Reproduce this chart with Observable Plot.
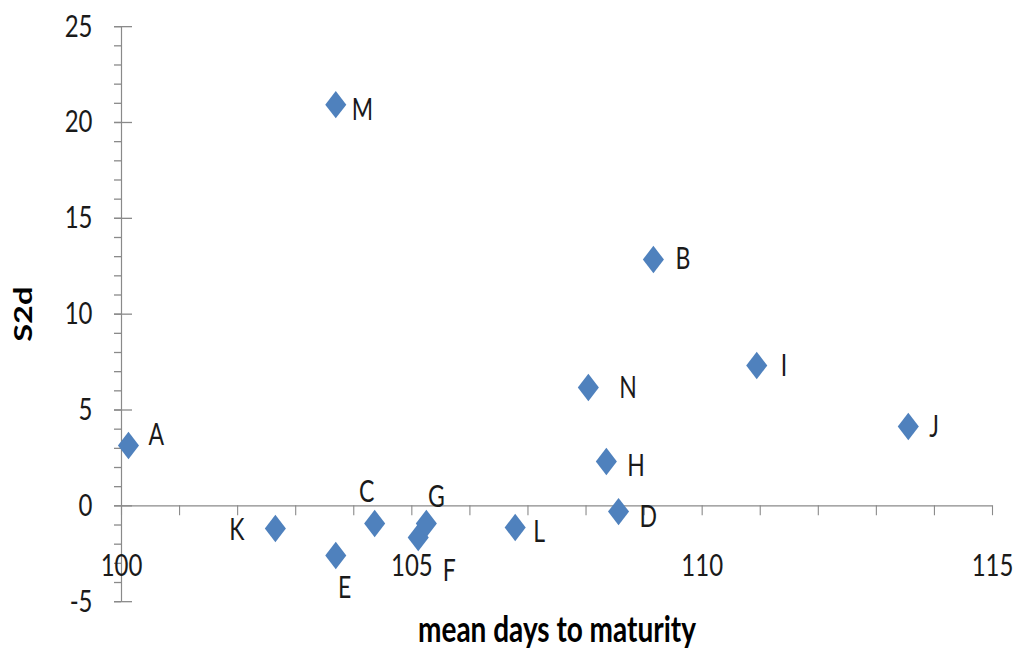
<!DOCTYPE html>
<html>
<head>
<meta charset="utf-8">
<script src="https://cdn.jsdelivr.net/npm/d3@7"></script>
<script src="https://cdn.jsdelivr.net/npm/@observablehq/plot@0.6"></script>
<style>
  html, body { margin: 0; padding: 0; background: #fff; }
  #chart svg { display: block; }
</style>
</head>
<body>
<div id="chart"></div>
<script>
// ---- data ----
const names    = ["A", "B", "C", "D", "E", "F", "G", "H", "I", "J", "K", "L", "M", "N"];
const meanDays = [100.12, 109.16, 104.36, 108.56, 103.69, 105.11, 105.25, 108.35, 110.94, 113.55, 102.65, 106.78, 103.69, 108.04];
const s2d      = [3.15, 12.85, -0.92, -0.30, -2.59, -1.65, -0.92, 2.31, 7.32, 4.14, -1.18, -1.13, 20.93, 6.17];

const xTickLabels = [100, 105, 110, 115];
const xTicks      = [100, 101, 102, 103, 104, 105, 106, 107, 108, 109, 110, 111, 112, 113, 114, 115];
const yTickLabels = [-5, 0, 5, 10, 15, 20, 25];
const yTicks      = [-5, -4, -3, -2, -1, 0, 1, 2, 3, 4, 5, 6, 7, 8, 9, 10, 11, 12, 13, 14, 15, 16, 17, 18, 19, 20, 21, 22, 23, 24, 25];

const xLabel = "mean days to maturity";
const yLabel = "S2d";

// ---- label placement (screen px offsets, anchor) ----
const labelPlacement = {
  A: ["start", 20, -10], B: ["start", 22, 0],  C: ["middle", -8, -31], D: ["start", 21, 6],
  E: ["middle", 9, 33],  F: ["middle", 31, 34], G: ["middle", 10, -26], H: ["start", 21, 5],
  I: ["start", 24, 1],   J: ["start", 21, 1],  K: ["end", -31, 2],     L: ["start", 18, 5],
  M: ["start", 16, 6],   N: ["start", 31, 1]
};

// ---- layout ----
const W = 1027, H = 507;          // logical drawing size
const OUT_H = 659;                // displayed height (vertical stretch like the reference)
const S = OUT_H / H;
const font = "Lato, 'Open Sans', 'Liberation Sans', sans-serif";
const axisColor = "#8a8a8a";
const textColor = "#1a1a1a";

const points = names.map((n, i) => ({name: n, x: meanDays[i], y: s2d[i]}));

const labelMarks = points.map(p => {
  const [anchor, dx, dy] = labelPlacement[p.name];
  return Plot.text([p], {
    x: "x", y: "y", text: "name",
    textAnchor: anchor, dx: dx, dy: dy / S,
    fontSize: 23, fontFamily: font, fill: textColor
  });
});

const chart = Plot.plot({
  width: W,
  height: H,
  marginLeft: 121,
  marginRight: 35,
  marginTop: 20,
  marginBottom: 44.6,
  x: {domain: [100, 115], axis: null},
  y: {domain: [-5, 25], axis: null},
  style: {fontFamily: font, background: "#fff", overflow: "visible"},
  marks: [
    // y minor ticks (left side)
    Plot.tickY(yTicks, {y: d => d, insetLeft: -7, insetRight: 871, stroke: axisColor, strokeWidth: 1}),
    // y major ticks (crossing)
    Plot.tickY(yTickLabels, {y: d => d, insetLeft: -7, insetRight: 860, stroke: axisColor, strokeWidth: 1}),
    // x ticks (below axis line at y = 0)
    Plot.ruleX(xTicks, {x: d => d, y1: 0, y2: 0, insetBottom: -7.7, stroke: axisColor, strokeWidth: 1.1}),
    // axis lines
    Plot.ruleX([100], {stroke: axisColor, strokeWidth: 1.2}),
    Plot.ruleY([0], {stroke: axisColor, strokeWidth: 1}),
    // y tick labels
    Plot.text(yTickLabels, {
      y: d => d, frameAnchor: "left", text: d => String(d), textAnchor: "end",
      dx: -29, fontSize: 24, fontFamily: font, fill: textColor
    }),
    // x tick labels
    Plot.text(xTickLabels, {
      x: d => d, y: 0, text: d => String(d), textAnchor: "middle",
      dy: 60 / S, fontSize: 24, fontFamily: font, fill: textColor
    }),
    // axis titles
    Plot.text([xLabel], {
      frameAnchor: "bottom", text: d => d, dy: 31, textAnchor: "middle",
      fontSize: 28, fontWeight: "bold", fontFamily: font, fill: "#000"
    }),
    Plot.text([yLabel], {
      frameAnchor: "left", text: d => d, dx: -98, rotate: -90, textAnchor: "middle",
      fontSize: 25, fontWeight: "bold", fontFamily: font, fill: "#000"
    }),
    // points
    Plot.dot(points, {x: "x", y: "y", symbol: "diamond2", r: 9.5, fill: "#4F81BD", stroke: "none"}),
    ...labelMarks
  ]
});

chart.setAttribute("height", OUT_H);
chart.setAttribute("preserveAspectRatio", "none");
chart.style.width = W + "px";
chart.style.height = OUT_H + "px";
chart.style.maxWidth = "none";
document.getElementById("chart").appendChild(chart);
</script>
</body>
</html>
